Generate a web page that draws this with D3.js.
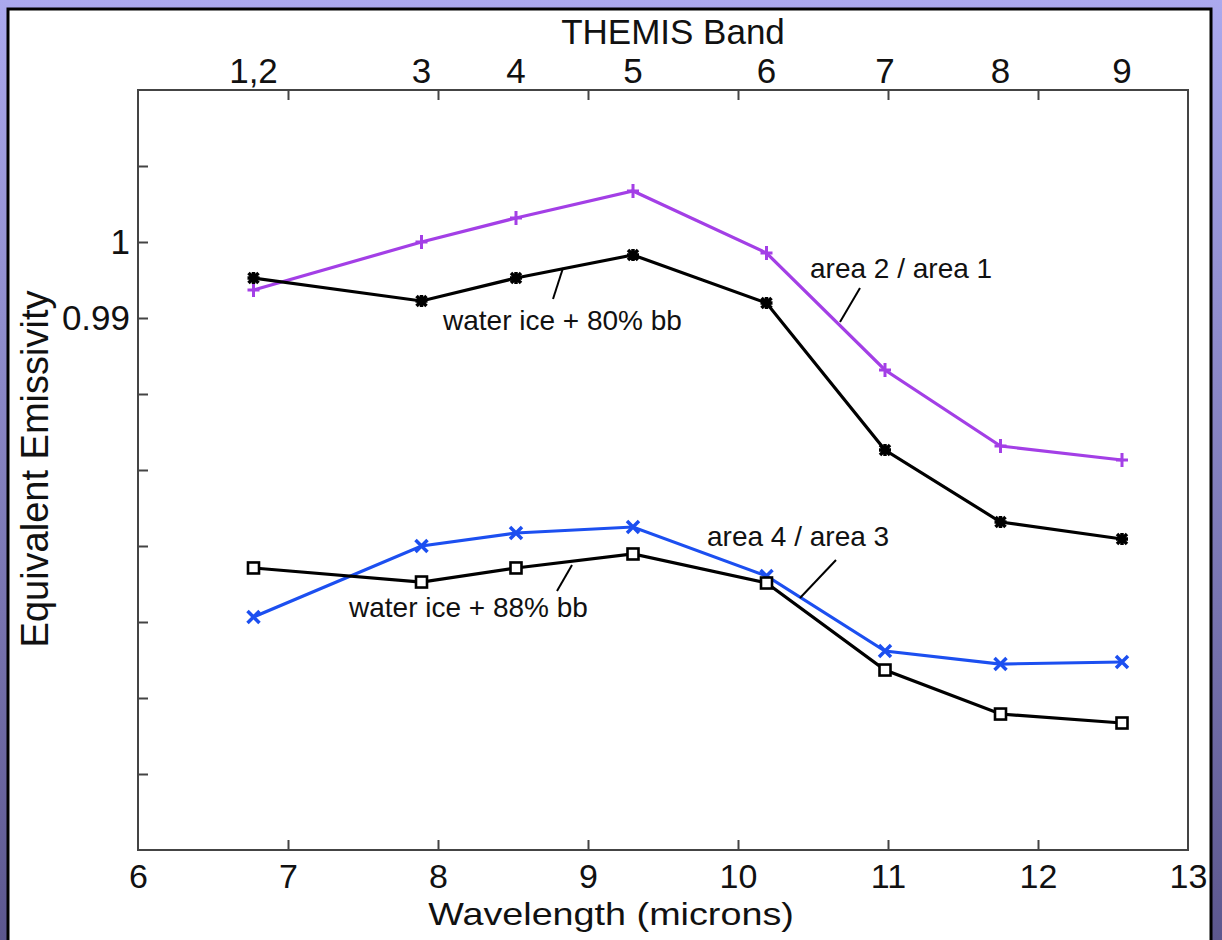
<!DOCTYPE html>
<html><head><meta charset="utf-8">
<script src="https://cdn.jsdelivr.net/npm/d3@7"></script>
<style>
html,body{margin:0;padding:0;overflow:hidden;}
svg{display:block;}
text{font-family:"Liberation Sans",Arial,sans-serif;fill:#111;}
</style></head><body>
<svg id="chart" width="1222" height="940"></svg>
<script>
// ---- data ----
const wavelengths = [6.77, 7.89, 8.52, 9.30, 10.19, 10.98, 11.75, 12.56];
const bandLabels = ["1,2", "3", "4", "5", "6", "7", "8", "9"];
const area2over1 = [0.99368, 1.0, 1.00316, 1.00671, 0.99855, 0.98316, 0.97316, 0.97132];
const ice80 = [0.99526, 0.99224, 0.99526, 0.99829, 0.99197, 0.97263, 0.96316, 0.96092];
const area4over3 = [0.95066, 0.96, 0.96171, 0.9625, 0.95605, 0.94618, 0.94447, 0.94474];
const ice88 = [0.95711, 0.95526, 0.95711, 0.95895, 0.95513, 0.94368, 0.93789, 0.93671];
const xTicks = [6, 7, 8, 9, 10, 11, 12, 13];
const yTicks = [0.93, 0.94, 0.95, 0.96, 0.97, 0.98, 0.99, 1.0, 1.01];
const yLabelled = {"0.99": "0.99", "1": "1"};

const svg = d3.select("#chart");
const W = 1222, H = 940;
const defs = svg.append("defs");
const grad = defs.append("linearGradient").attr("id","bg").attr("x1",0).attr("y1",0).attr("x2",0).attr("y2",1);
grad.append("stop").attr("offset","0%").attr("stop-color","#aba9ee");
grad.append("stop").attr("offset","100%").attr("stop-color","#5c578e");
svg.append("rect").attr("width",W).attr("height",H).attr("fill","url(#bg)");
svg.append("rect").attr("x",8).attr("y",9).attr("width",1203).attr("height",960)
  .attr("fill","#fff").attr("stroke","#000").attr("stroke-width",3);

const m = {l:138, r:1188, t:90, b:850};
const x = d3.scaleLinear().domain([6,13]).range([m.l, m.r]);
const y = d3.scaleLinear().domain([0.92,1.02]).range([m.b, m.t]);

// frame
svg.append("rect").attr("x",m.l).attr("y",m.t).attr("width",m.r-m.l).attr("height",m.b-m.t)
  .attr("fill","none").attr("stroke","#444").attr("stroke-width",2);

function styleAxis(g, fs){
  g.select(".domain").remove();
  g.selectAll(".tick line").attr("stroke","#444").attr("stroke-width",2);
  g.selectAll("text").attr("font-size",fs).attr("font-family","Liberation Sans, Arial, sans-serif").attr("fill","#111");
}
// bottom axis
const gb = svg.append("g").attr("transform",`translate(0,${m.b})`)
  .call(d3.axisBottom(x).tickValues(xTicks).tickFormat(d3.format("d")).tickSizeInner(-10).tickSizeOuter(0).tickPadding(14));
styleAxis(gb, 34);
gb.selectAll(".tick").filter(d => d===6||d===13).select("line").remove();
// top axis ticks (no labels)
const gt = svg.append("g").attr("transform",`translate(0,${m.t})`)
  .call(d3.axisTop(x).tickValues(xTicks.filter(d=>d>6&&d<13)).tickFormat("").tickSizeInner(-10).tickSizeOuter(0));
styleAxis(gt, 34);
// band labels on top
svg.append("g").selectAll("text").data(bandLabels).join("text")
  .attr("x",(d,i)=>x(wavelengths[i])).attr("y",83).attr("text-anchor","middle")
  .attr("font-size",35).text(d=>d);
// left axis
const gl = svg.append("g").attr("transform",`translate(${m.l},0)`)
  .call(d3.axisLeft(y).tickValues(yTicks).tickFormat(d => yLabelled[String(+d.toFixed(2))] || "").tickSizeInner(-10).tickSizeOuter(0).tickPadding(8));
styleAxis(gl, 35);

// titles
svg.append("text").attr("x",673).attr("y",44).attr("text-anchor","middle").attr("font-size",35).text("THEMIS Band");
svg.append("text").attr("transform","translate(611,925) scale(1.18,1)").attr("text-anchor","middle").attr("font-size",32).text("Wavelength (microns)");
svg.append("text").attr("transform","translate(48,469) rotate(-90)").attr("text-anchor","middle").attr("font-size",38).text("Equivalent Emissivity");

// series
const series = [
  {name:"area 2 / area 1", vals:area2over1, color:"#a33fe6", marker:"plus"},
  {name:"water ice + 80% bb", vals:ice80, color:"#000", marker:"star"},
  {name:"area 4 / area 3", vals:area4over3, color:"#1c4ff0", marker:"cross"},
  {name:"water ice + 88% bb", vals:ice88, color:"#000", marker:"square"}
];
const line = d3.line().x(d=>x(d[0])).y(d=>y(d[1]));
series.forEach(s => {
  const pts = wavelengths.map((w,i)=>[w, s.vals[i]]);
  svg.append("path").attr("d",line(pts)).attr("fill","none").attr("stroke",s.color).attr("stroke-width",3.2);
  const g = svg.append("g");
  pts.forEach(p => {
    const cx = x(p[0]), cy = y(p[1]);
    if (s.marker==="plus") {
      g.append("path").attr("d",`M${cx-6},${cy}H${cx+6}M${cx},${cy-7}V${cy+7}`).attr("stroke",s.color).attr("stroke-width",3);
    } else if (s.marker==="cross") {
      g.append("path").attr("d",`M${cx-6},${cy-6}L${cx+6},${cy+6}M${cx-6},${cy+6}L${cx+6},${cy-6}`).attr("stroke",s.color).attr("stroke-width",3.5);
    } else if (s.marker==="star") {
      g.append("path").attr("d",`M${cx-5},${cy-5}L${cx+5},${cy+5}M${cx-5},${cy+5}L${cx+5},${cy-5}M${cx-6},${cy}H${cx+6}M${cx},${cy-6}V${cy+6}`).attr("stroke",s.color).attr("stroke-width",3.5);
    } else {
      g.append("rect").attr("x",cx-5.5).attr("y",cy-5.5).attr("width",11).attr("height",11).attr("fill","#fff").attr("stroke",s.color).attr("stroke-width",2.6);
    }
  });
});

// annotations
const notes = [
  {text:"area 2 / area 1", tx:810, ty:278, l:[[860,288],[840,322]]},
  {text:"water ice + 80% bb", tx:443, ty:330, l:[[563,268],[553,299]]},
  {text:"area 4 / area 3", tx:707, ty:546, l:[[836,560],[800,598]]},
  {text:"water ice + 88% bb", tx:349, ty:617, l:[[572,565],[557,591]]}
];
notes.forEach(n => {
  svg.append("path").attr("d",`M${n.l[0][0]},${n.l[0][1]}L${n.l[1][0]},${n.l[1][1]}`).attr("stroke","#000").attr("stroke-width",2);
  svg.append("text").attr("x",n.tx).attr("y",n.ty).attr("font-size",28).text(n.text);
});
</script>
</body></html>
